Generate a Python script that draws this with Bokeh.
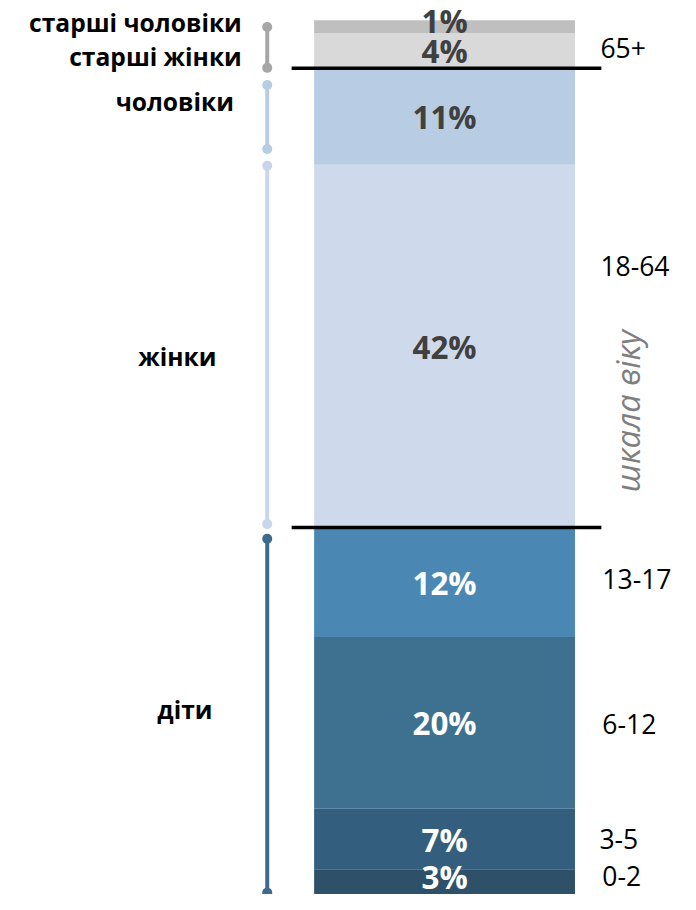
from bokeh.plotting import figure
from bokeh.models import Range1d
from bokeh.core.properties import value
from bokeh.embed import file_html
from bokeh.resources import INLINE
import math

# ---- data (bottom to top) ----
segments = ["0-2", "3-5", "6-12", "13-17", "жінки", "чоловіки", "старші жінки", "старші чоловіки"]
shares = [3.0, 6.9, 19.6, 12.5, 41.4, 11.0, 4.0, 1.5]
share_labels = ["3%", "7%", "20%", "12%", "42%", "11%", "4%", "1%"]
seg_colors = ["#2E5069", "#335E7D", "#3E7090", "#4A88B3", "#CEDAEB", "#B8CCE4", "#D9D9D9", "#BFBFBF"]
seg_text_colors = ["white", "white", "white", "white", "#404040", "#404040", "#404040", "#404040"]

group_names = ["діти", "жінки", "чоловіки", "старші жінки", "старші чоловіки"]
age_labels = ["0-2", "3-5", "6-12", "13-17", "18-64", "65+"]
axis_title = "шкала віку"

FONT = "Open Sans"

# ---- stacking ----
tops = []
c = 0.0
for s in shares:
    c += s
    tops.append(c)
bottoms = [t - s for t, s in zip(tops, shares)]
mids = [(b + t) / 2 for b, t in zip(bottoms, tops)]
total = tops[-1]

# ---- layout (reference frame 696 x 910 mapped onto the figure) ----
W, H = 680, 894
REF_W, REF_H = 696, 910
RPPU = 8.92          # reference pixels per percent
TOP_PX = 20          # bar top in reference pixels
y_end = total + TOP_PX / RPPU
y_start = y_end - REF_H / RPPU
S = H / REF_H


def vy(px):
    return y_end - px / RPPU


def fs(px):
    return f"{px * S:.1f}px"


p = figure(width=W, height=H, output_backend="svg", toolbar_location=None,
           x_range=Range1d(0, REF_W), y_range=Range1d(y_start, y_end),
           min_border=0, outline_line_color=None)
p.axis.visible = False
p.grid.visible = False
p.background_fill_color = "white"

BAR_L, BAR_R = 321, 588
XC = (BAR_L + BAR_R) / 2

p.quad(left=BAR_L, right=BAR_R, bottom=bottoms, top=tops, fill_color=seg_colors,
       line_color=None)

# percent labels
yoff = [-6, 0, 0, 0, 0, 0, 0, -6]
p.text(x=[XC] * len(shares), y=mids, text=share_labels, text_color=seg_text_colors,
       text_font=value(FONT), text_font_style="bold", text_font_size=fs(32),
       text_align="center", text_baseline="middle", y_offset=[o * S for o in yoff])

# separator lines
children_top = tops[3]
adult_top = tops[5]
for yv in (children_top, adult_top):
    p.line(x=[298, 615], y=[yv, yv], line_color="black", line_width=3.5)

# brackets (group ranges with pixel insets)
groups = [
    (bottoms[0], tops[3], "#3E6A8C", 3, 11.5),    # діти
    (bottoms[4], tops[4], "#C7D6EA", 3.5, 1),     # жінки
    (bottoms[5], tops[5], "#B8CCE4", 16, 17),     # чоловіки
    (bottoms[6], tops[7], "#A6A6A6", 0.5, 7),     # старші
]
BX = 273
for lo, hi, col, ins_lo, ins_hi in groups:
    y0 = lo + ins_lo / RPPU
    y1 = hi - ins_hi / RPPU
    p.line(x=[BX, BX], y=[y0, y1], line_color=col, line_width=4)
    p.scatter(x=[BX, BX], y=[y0, y1], size=10, fill_color=col, line_color=None)

# left group labels
left_x = [217, 221, 239, 247, 247]
left_px = [722, 362, 103, 57, 22]
p.text(x=left_x, y=[vy(v) for v in left_px], text=group_names, text_font=value(FONT),
       text_font_style="bold", text_font_size=fs(25), text_align="right",
       text_baseline="middle", text_color="black")

# right age labels
age_y = [mids[0], mids[1], mids[2], mids[3], (bottoms[4] + tops[5]) / 2, (bottoms[6] + tops[7]) / 2]
age_yoff = [-7, 0, 1, -3, -33, 3.5]
age_x = [616, 613, 616, 616, 614, 614]
p.text(x=age_x, y=age_y, text=age_labels, text_font=value(FONT), text_font_size=fs(27),
       text_align="left", text_baseline="middle", text_color="black",
       y_offset=[o * S for o in age_yoff])

# rotated axis title
p.text(x=[641], y=[vy(418)], text=[axis_title], text_font=value(FONT), text_font_style="italic",
       text_font_size=fs(33), text_align="center", text_baseline="middle",
       text_color="#7F7F7F", angle=math.pi / 2)

open("out.html", "w").write(file_html(p, INLINE))
